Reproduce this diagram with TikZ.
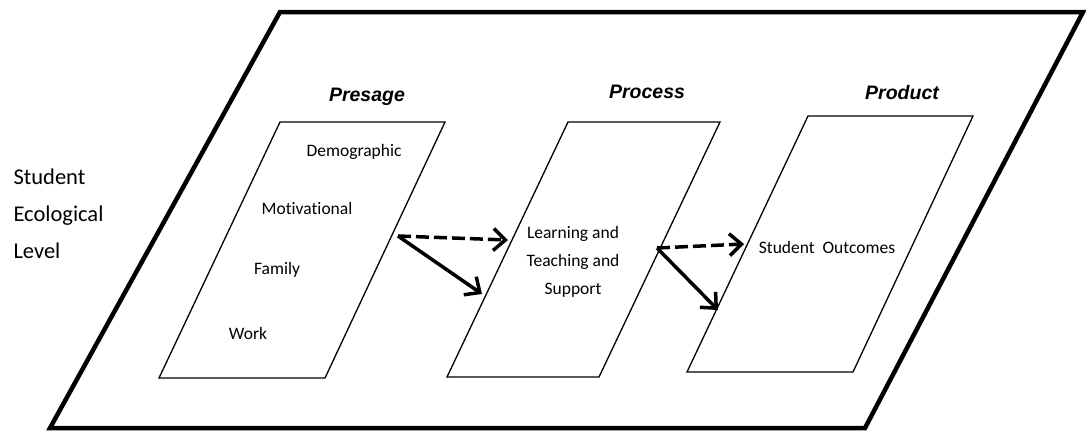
\documentclass[tikz,border=0pt]{standalone}
\usepackage{fontspec}
\setmainfont{Carlito}[Ligatures=NoCommon]
\newfontfamily\headfont{Liberation Sans}
\usetikzlibrary{arrows.meta, positioning}

\begin{document}
\begin{tikzpicture}[x=1pt,y=-1pt,
    level/.style={line width=4.5pt, line join=miter},
    stage/.style={line width=1.3pt},
    head/.style={font=\headfont\bfseries\itshape\fontsize{19.5}{22}\selectfont},
    item/.style={font=\fontsize{17.5}{28}\selectfont, align=center},
    flow/.style={line width=3.5pt, -{Straight Barb[length=12pt,width=22pt]}},
    weak/.style={flow, dash pattern=on 13pt off 5pt}]
  \useasboundingbox (0,0) rectangle (1086,432);

  % ecological level
  \draw[level] (280,12) -- (1083,12) -- (865,428) -- (50,428) -- cycle;
  \node[font=\fontsize{22.5}{37}\selectfont, align=left, anchor=west] (lvl) at (10,214)
    {Student\\Ecological\\Level};

  % stages
  \draw[stage] (280,122) -- (445,122) -- (325,378) -- (159,378) -- cycle;
  \draw[stage] (568,122) -- (720,122) -- (599,377) -- (447,377) -- cycle;
  \draw[stage] (808,116) -- (973,116) -- (853,372) -- (687,372) -- cycle;

  \node[head] (presage) at (367,97) {Presage};
  \node[head] (process) at (647,92) {Process};
  \node[head] (product) at (902,93) {Product};

  \node[item] (demo) at (354,152) {Demographic};
  \node[item] (motiv) at (307,208) {Motivational};
  \node[item] (family) at (277,270) {Family};
  \node[item] (work) at (248,333) {Work};
  \node[item] (learn) at (573,262) {Learning and\\Teaching and\\Support};
  \node[item] (outcome) at (827,247) {Student\ \ Outcomes};

  % links
  \coordinate (p out) at (398,236);
  \coordinate (l in a) at (508,240);
  \coordinate (l in b) at (482,294);
  \coordinate (l out) at (657,248);
  \coordinate (o in a) at (744,244);
  \coordinate (o in b) at (718,310);

  \draw[weak] (p out) -- (l in a);
  \draw[flow] (p out) -- (l in b);
  \draw[weak] (l out) -- (o in a);
  \draw[flow] (l out) -- (o in b);
\end{tikzpicture}
\end{document}
